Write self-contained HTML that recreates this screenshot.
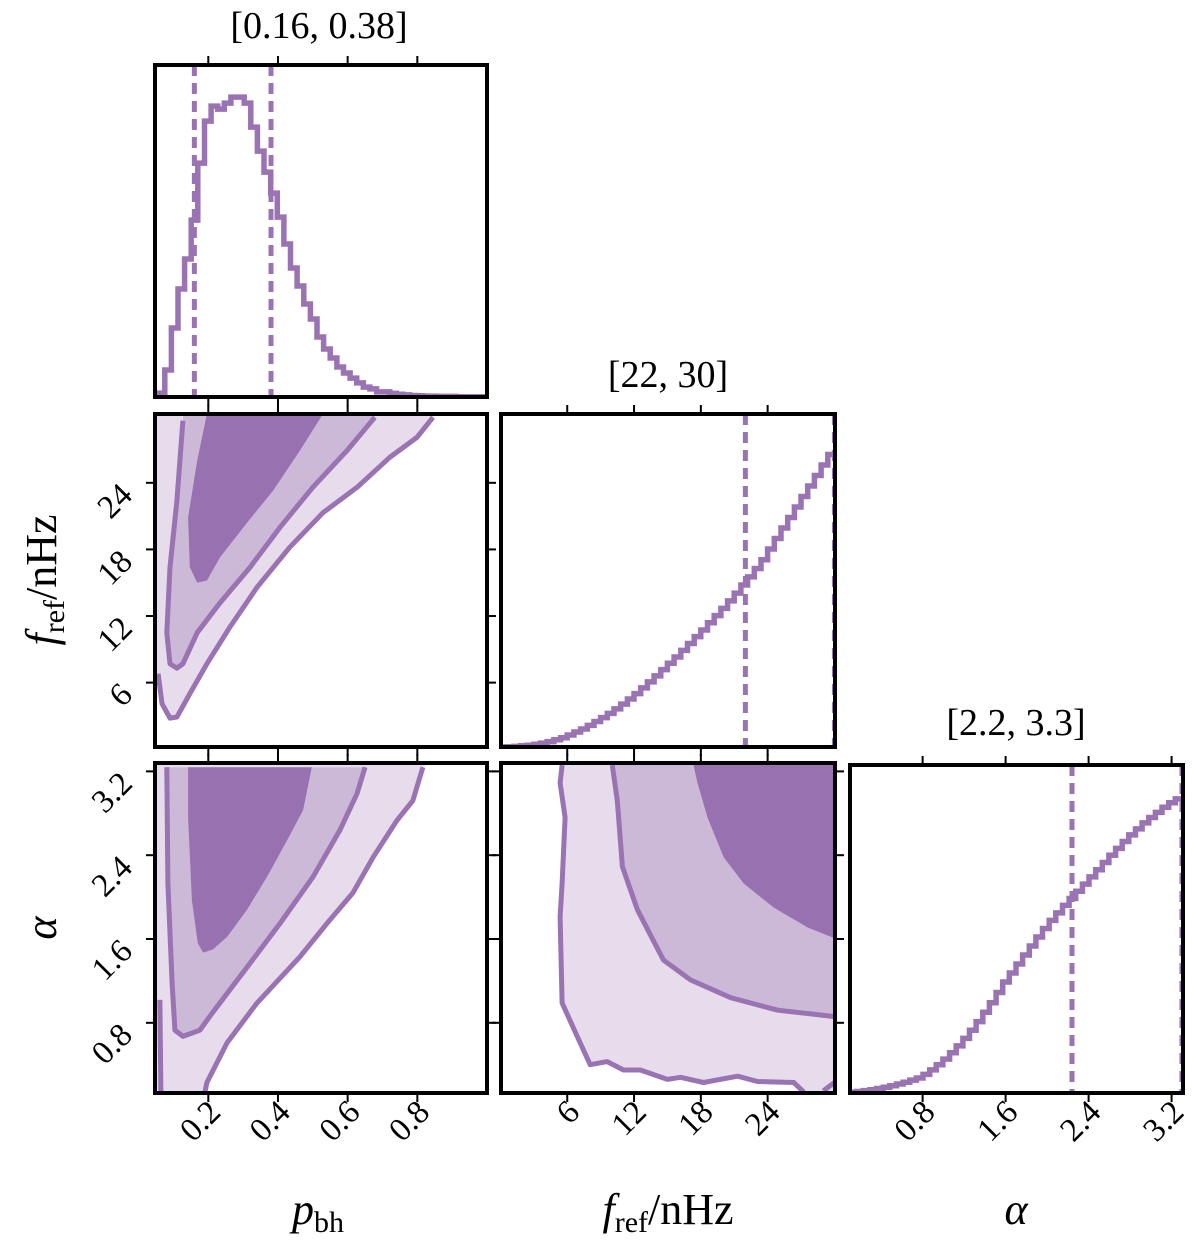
<!DOCTYPE html>
<html><head><meta charset="utf-8"><style>
html,body{margin:0;padding:0;background:#fff;}
svg{display:block;font-family:"Liberation Serif","DejaVu Serif",serif;}
</style></head><body>
<svg id="chart" width="1200" height="1250" viewBox="0 0 1200 1250" xmlns="http://www.w3.org/2000/svg">
<defs>
<clipPath id="c11"><rect x="155" y="65" width="332" height="332"/></clipPath>
<clipPath id="c21"><rect x="155" y="414" width="332" height="333"/></clipPath>
<clipPath id="c22"><rect x="501" y="414" width="334" height="333"/></clipPath>
<clipPath id="c31"><rect x="155" y="763" width="332" height="330"/></clipPath>
<clipPath id="c32"><rect x="501" y="763" width="334" height="330"/></clipPath>
<clipPath id="c33"><rect x="850" y="765" width="333" height="328"/></clipPath>
</defs>
<g id="layer"></g>
</svg>
<script>
// ---- data ----
const pHistStart = 0.056, pHistWidth = 0.019;
const pHist = [0.013,0.09,0.23,0.36,0.46,0.59,0.78,0.92,0.97,0.96,0.98,1.0,1.0,0.98,0.9,0.82,0.75,0.68,0.6,0.51,0.43,0.37,0.31,0.26,0.2,0.16,0.13,0.1,0.08,0.063,0.047,0.033,0.027,0.017,0.017,0.012,0.009,0.007,0.005,0.004,0.003,0.003,0.002,0.002,0.002,0.001,0.001,0.001,0.001,0.001];
const fHistStart = 0, fHistWidth = 0.6;
const fHist = [0,0.001,0.002,0.004,0.006,0.009,0.013,0.018,0.024,0.031,0.04,0.05,0.06,0.072,0.085,0.098,0.112,0.127,0.143,0.16,0.178,0.197,0.217,0.237,0.258,0.279,0.3,0.322,0.345,0.368,0.39,0.414,0.438,0.462,0.487,0.513,0.54,0.567,0.595,0.624,0.66,0.695,0.73,0.765,0.8,0.835,0.87,0.905,0.94,0.975];
const aHistStart = 0.1, aHistWidth = 0.064;
const aHist = [0.003,0.005,0.008,0.011,0.015,0.019,0.024,0.03,0.036,0.043,0.05,0.062,0.077,0.094,0.113,0.134,0.157,0.182,0.209,0.238,0.269,0.301,0.335,0.37,0.4,0.43,0.46,0.49,0.52,0.548,0.575,0.6,0.625,0.648,0.672,0.696,0.72,0.744,0.768,0.792,0.815,0.838,0.86,0.88,0.9,0.918,0.935,0.952,0.967,0.98];
const pQuantiles = [0.16, 0.38];
const fQuantiles = [22, 30];
const aQuantiles = [2.24, 3.3];
const pTicks = [0.2, 0.4, 0.6, 0.8];
const pTickLabels = ["0.2","0.4","0.6","0.8"];
const fTicks = [6, 12, 18, 24];
const fTickLabels = ["6","12","18","24"];
const aTicks = [0.8, 1.6, 2.4, 3.2];
const aTickLabels = ["0.8","1.6","2.4","3.2"];
// contours (p, f)
const pfOuter = [[0.845,29.9],[0.799,28.1],[0.721,26.3],[0.627,23.6],[0.529,21.3],[0.434,18.2],[0.340,14.6],[0.262,11.0],[0.196,7.7],[0.147,5.0],[0.110,2.9],[0.090,2.8],[0.067,4.1],[0.056,6.8]];
const pfMid = [[0.678,29.9],[0.598,26.9],[0.500,23.6],[0.406,20.0],[0.320,16.4],[0.234,13.2],[0.168,10.5],[0.127,7.7],[0.110,7.3],[0.090,7.7],[0.081,10.5],[0.090,16.4],[0.110,22.4],[0.127,29.6]];
const pfDark = [[0.529,30.2],[0.463,26.9],[0.386,23.3],[0.311,20.4],[0.234,17.3],[0.196,15.2],[0.168,15.0],[0.147,16.4],[0.142,20.9],[0.168,26.0],[0.196,30.2]];
// contours (p, alpha)
const paOuter = [[0.816,3.24],[0.787,2.92],[0.741,2.73],[0.673,2.38],[0.615,2.04],[0.541,1.75],[0.463,1.43],[0.340,0.99],[0.254,0.61],[0.196,0.23],[0.190,0.13]];
const paLeft = [[0.061,1.02],[0.064,0.13]];
const paMid = [[0.650,3.24],[0.627,2.99],[0.578,2.64],[0.500,2.19],[0.406,1.75],[0.311,1.33],[0.213,0.90],[0.176,0.73],[0.127,0.67],[0.104,0.73],[0.096,1.18],[0.084,2.13],[0.081,3.24]];
const paDark = [[0.497,3.24],[0.472,2.83],[0.426,2.54],[0.368,2.19],[0.311,1.88],[0.254,1.62],[0.213,1.50],[0.185,1.47],[0.170,1.56],[0.153,1.97],[0.142,2.76],[0.142,3.24]];
// contours (f, alpha)
const faOuter = [[5.54,3.26],[5.36,3.09],[5.81,2.76],[5.54,2.13],[5.36,1.81],[5.54,0.99],[6.89,0.67],[8.06,0.40],[9.59,0.43],[11.04,0.35],[12.57,0.35],[15.0,0.26],[16.17,0.28],[18.24,0.23],[21.3,0.29],[23.1,0.24],[26.35,0.23],[27.25,0.14]];
const faTail = [[29.0,0.15],[30.0,0.23]];
const faMid = [[10.05,3.26],[10.5,2.92],[10.95,2.29],[12.3,1.88],[14.64,1.40],[17.07,1.21],[20.68,1.04],[24.9,0.92],[29.95,0.86]];
const faDark = [[17.34,3.26],[17.7,3.09],[18.6,2.76],[20.05,2.38],[21.85,2.13],[24.55,1.90],[27.6,1.71],[29.95,1.61]];

// ---- axes ----
const NS = "http://www.w3.org/2000/svg";
const layer = document.getElementById('layer');
const LINE = "#9a73b3", DARK = "#9872b0", MID = "#ccb9d8", LIGHT = "#e7dcec";
function lin(d0,d1,r0,r1){ return v => r0 + (v-d0)/(d1-d0)*(r1-r0); }
const R1 = {y0:65,y1:397}, R2 = {y0:414,y1:747}, R3c = {y0:765,y1:1093};
const xP = lin(0.047,1.0,155,487);
const xF = lin(0.05,30.05,501,835);
const xA = lin(0.1,3.31,850,1183);
const yF = lin(0.2,30.2,747,414);
const yA = lin(0.13,3.28,1093,763);
const yH1 = lin(0,1.107,397,65);
const yH2 = lin(0,1.11,747,414);
const yH3 = lin(0,1.093,1093,765);

function mk(tag, attrs, parent){ const e=document.createElementNS(NS,tag); for(const k in attrs) e.setAttribute(k,attrs[k]); (parent||layer).appendChild(e); return e; }
function polyPath(pts, fx, fy){ return pts.map((p,i)=>(i?'L':'M')+fx(p[0]).toFixed(1)+','+fy(p[1]).toFixed(1)).join(''); }

function histPath(vals, start, w, fx, fy){
  let d = 'M'+fx(start).toFixed(1)+','+fy(0).toFixed(1);
  vals.forEach((v,i)=>{ const a=fx(start+i*w), b=fx(start+(i+1)*w), y=fy(v); d+='L'+a.toFixed(1)+','+y.toFixed(1)+'L'+b.toFixed(1)+','+y.toFixed(1); });
  return d;
}
function drawHist(name, clip, vals, start, w, fx, fy, quants, y0, y1){
  const g = mk('g',{'clip-path':'url(#'+clip+')'});
  
  
  const p = mk('path',{d:histPath(vals,start,w,fx,fy),fill:'none',stroke:LINE,'stroke-width':5.5,'stroke-linejoin':'miter'},g);
  
  
  quants.forEach((q,i)=>{
    const l = mk('line',{x1:fx(q),x2:fx(q),y1:y0,y2:y1,stroke:LINE,'stroke-width':5,'stroke-dasharray':'11,7'},g);
    
    
  });
}
function drawContour(name, clip, fx, fy, outer, mid, dark, closeOuter, closeMid, closeDark, extras){
  const g = mk('g',{'clip-path':'url(#'+clip+')'});
  
  
  const o = mk('path',{d:polyPath(outer.concat(closeOuter),fx,fy)+'Z',fill:LIGHT,stroke:'none'},g);
  
  
  const m = mk('path',{d:polyPath(mid.concat(closeMid),fx,fy)+'Z',fill:MID,stroke:'none'},g);
  
  
  const dk = mk('path',{d:polyPath(dark.concat(closeDark),fx,fy)+'Z',fill:DARK,stroke:'none'},g);
  
  
  const ol = mk('path',{d:polyPath(outer,fx,fy),fill:'none',stroke:LINE,'stroke-width':5,'stroke-linejoin':'round'},g);
  
  
  const ml = mk('path',{d:polyPath(mid,fx,fy),fill:'none',stroke:LINE,'stroke-width':5,'stroke-linejoin':'round'},g);
  
  
  (extras||[]).forEach(ex=>{
    const el = mk('path',{d:polyPath(ex,fx,fy),fill:'none',stroke:LINE,'stroke-width':5},g);
    
    
  });
}
function frame(name, box){
  const r = mk('rect',{x:box.x0,y:box.y0,width:box.x1-box.x0,height:box.y1-box.y0,fill:'none',stroke:'#000','stroke-width':4});
  
  
}
function xTicks(name, ticks, fx, y0, y1){
  ticks.forEach(t=>{
    const x=fx(t);
    const a = mk('line',{x1:x,x2:x,y1:y0-2,y2:y0-9,stroke:'#000','stroke-width':2});
    
    
    const b = mk('line',{x1:x,x2:x,y1:y1+2,y2:y1+9,stroke:'#000','stroke-width':2});
    
    
  });
}
function yTicks(name, ticks, fy, x0, x1){
  ticks.forEach(t=>{
    const y=fy(t);
    const a = mk('line',{x1:x0-2,x2:x0-9,y1:y,y2:y,stroke:'#000','stroke-width':2});
    
    
    const b = mk('line',{x1:x1+2,x2:x1+9,y1:y,y2:y,stroke:'#000','stroke-width':2});
    
    
  });
}
function xTickLabels(name, ticks, labels, fx, y){
  ticks.forEach((t,i)=>{
    const x=fx(t)+14, yy=y;
    const e = mk('text',{x:x,y:yy,'font-size':33,'text-anchor':'end',transform:'rotate(-45 '+x+' '+yy+')'});
    e.textContent = labels[i];
    
    
  });
}
function yTickLabels(name, ticks, labels, fy, x){
  ticks.forEach((t,i)=>{
    const y=fy(t)+14;
    const e = mk('text',{x:x,y:y,'font-size':33,'text-anchor':'end',transform:'rotate(-45 '+x+' '+y+')'});
    e.textContent = labels[i];
    
    
  });
}
function text(name, x, y, size, html, rot){
  const e = mk('text',{x:x,y:y,'font-size':size,'text-anchor':'middle'});
  if(rot) e.setAttribute('transform','rotate('+rot+' '+x+' '+y+')');
  e.innerHTML = html;
  
  
  return e;
}

// panel 1,1
drawHist('p-bh','c11',pHist,pHistStart,pHistWidth,xP,yH1,pQuantiles,R1.y0,R1.y1);
frame('p-bh-hist',{x0:155,x1:487,y0:65,y1:397});
xTicks('p-bh-hist',pTicks,xP,65,397);
// panel 2,1
drawContour('p-bh-f-ref','c21',xP,yF,pfOuter,pfMid,pfDark,[[0.03,6.8],[0.03,31],[0.9,31]],[[0.13,31],[0.68,31]],[],[]);
frame('p-bh-f-ref',{x0:155,x1:487,y0:414,y1:747});
xTicks('p-bh-f-ref',pTicks,xP,414,747);
yTicks('p-bh-f-ref',fTicks,yF,155,487);
// panel 2,2
drawHist('f-ref','c22',fHist,fHistStart,fHistWidth,xF,yH2,fQuantiles,R2.y0,R2.y1);
frame('f-ref-hist',{x0:501,x1:835,y0:414,y1:747});
xTicks('f-ref-hist',fTicks,xF,414,747);
// panel 3,1
drawContour('p-bh-alpha','c31',xP,yA,paOuter,paMid,paDark,[[0.03,0.0],[0.03,3.4],[0.9,3.4]],[],[],[paLeft]);
frame('p-bh-alpha',{x0:155,x1:487,y0:763,y1:1093});
xTicks('p-bh-alpha',pTicks,xP,763,1093);
yTicks('p-bh-alpha',aTicks,yA,155,487);
// panel 3,2
drawContour('f-ref-alpha','c32',xF,yA,faOuter,faMid,faDark,[[27.5,0.0],[31,0.0],[31,3.4],[5.5,3.4]],[[31,0.86],[31,3.4],[10,3.4]],[[31,1.61],[31,3.4],[17,3.4]],[faTail]);
frame('f-ref-alpha',{x0:501,x1:835,y0:763,y1:1093});
xTicks('f-ref-alpha',fTicks,xF,763,1093);
yTicks('f-ref-alpha',aTicks,yA,501,835);
// panel 3,3
drawHist('alpha','c33',aHist,aHistStart,aHistWidth,xA,yH3,aQuantiles,R3c.y0,R3c.y1);
frame('alpha-hist',{x0:850,x1:1183,y0:765,y1:1093});
xTicks('alpha-hist',aTicks,xA,765,1093);

// tick labels
xTickLabels('p-bh',pTicks,pTickLabels,xP,1114);
xTickLabels('f-ref',fTicks,fTickLabels,xF,1114);
xTickLabels('alpha',aTicks,aTickLabels,xA,1114);
yTickLabels('f-ref',fTicks,fTickLabels,yF,134);
yTickLabels('alpha',aTicks,aTickLabels,yA,134);

// titles
text('p-bh-title',319,38,38,'[0.16, 0.38]');
text('f-ref-title',668,387,38,'[22, 30]');
text('alpha-title',1016,735,38,'[2.2, 3.3]');
// axis labels
text('p-bh-x-label',318,1224,44,'<tspan font-style="italic">p</tspan><tspan font-size="30" dy="8">bh</tspan>');
text('f-ref-x-label',668,1224,44,'<tspan font-style="italic">f</tspan><tspan font-size="30" dy="8">ref</tspan><tspan dy="-8">/nHz</tspan>');
text('alpha-x-label',1016,1224,44,'<tspan font-style="italic">α</tspan>');
text('f-ref-y-label',56,580,44,'<tspan font-style="italic">f</tspan><tspan font-size="30" dy="8">ref</tspan><tspan dy="-8">/nHz</tspan>',-90);
text('alpha-y-label',56,928,44,'<tspan font-style="italic">α</tspan>',-90);
</script>
</body></html>
